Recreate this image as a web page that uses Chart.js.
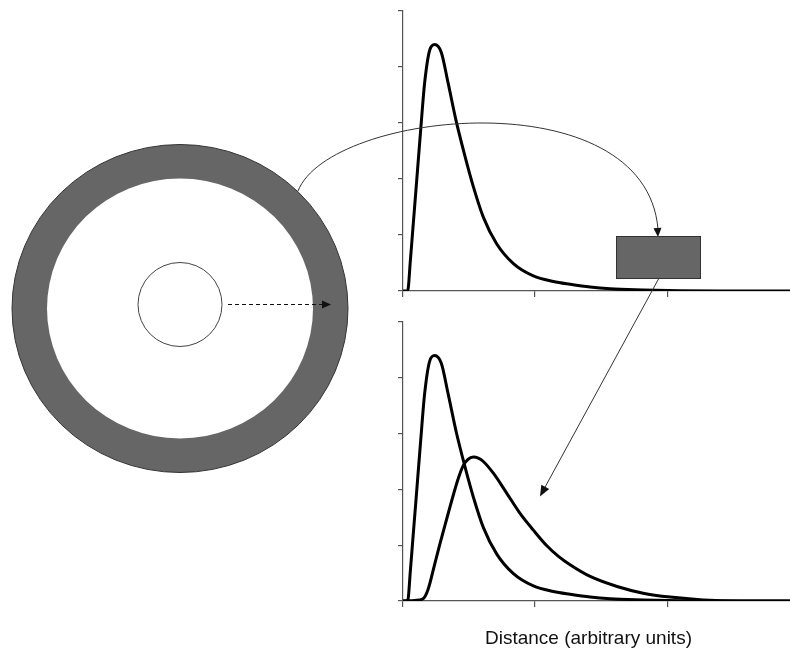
<!DOCTYPE html>
<html lang="en">
<head>
  <meta charset="UTF-8">
  <title>Distance distributions</title>
  <script src="https://cdn.jsdelivr.net/npm/chart.js"></script>
  <style>
    body {
      margin: 0;
      background: #fff;
      width: 790px;
      height: 662px;
      position: relative;
      overflow: hidden;
    }
    canvas { position: absolute; }
    #topChart { left: 380px; top: 0; }
    #bottomChart { left: 380px; top: 310px; }
    #sketch { left: 0; top: 0; pointer-events: none; }
    #xTitle {
      position: absolute;
      left: 388px;
      width: 401px;
      top: 628px;
      text-align: center;
      font: 19px/19px "Liberation Sans", Arial, sans-serif;
      color: #111;
    }
  </style>
</head>
<body>
  <canvas id="topChart" width="410" height="310"></canvas>
  <canvas id="bottomChart" width="410" height="310"></canvas>
  <canvas id="sketch" width="790" height="662"></canvas>
  <div id="xTitle">Distance (arbitrary units)</div>

  <script>
    // axes (arbitrary units); the plotted range runs off the right edge
    const xMax = 293;
    const xTickValues = [0, 100, 200];
    const yMax = 5;

    // narrow distribution (shown in both panels)
    const nearX = [0, 3.5, 5.6, 7.6, 9.8, 13.4, 16.4, 20.2, 24, 29, 34.1, 40.4, 47, 53.3, 60.8, 71, 83.6, 98.7, 113.9, 126.5, 141.7, 156.8, 181.8, 210, 240, 293];
    const nearY = [0, 0, 0.55, 1.15, 1.8, 2.88, 3.72, 4.3, 4.40, 4.26, 3.72, 3.02, 2.40, 1.86, 1.32, 0.84, 0.49, 0.27, 0.17, 0.12, 0.07, 0.04, 0.02, 0.005, 0, 0];

    // broader distribution (bottom panel only)
    const farX = [0, 9, 15.2, 18.9, 24.2, 28, 31.8, 38.1, 41.9, 45.7, 49.2, 53.3, 57, 60.8, 68.4, 78.6, 88.6, 98.7, 108.9, 117.7, 126.5, 141.7, 162.1, 181.8, 202.3, 227.3, 255, 293];
    const farY = [0, 0.01, 0.04, 0.2, 0.68, 1.03, 1.36, 1.9, 2.2, 2.43, 2.54, 2.58, 2.56, 2.50, 2.29, 1.93, 1.57, 1.27, 0.99, 0.80, 0.65, 0.44, 0.26, 0.14, 0.07, 0.02, 0, 0];

    const toPoints = (xs, ys) => xs.map((x, i) => ({ x: x, y: ys[i] }));

    const axisColor = '#555';

    function curve(points) {
      return {
        data: points,
        borderColor: '#000',
        borderWidth: 3,
        pointRadius: 0,
        fill: false,
        cubicInterpolationMode: 'monotone'
      };
    }

    function panelOptions(padTop) {
      return {
        responsive: false,
        animation: false,
        devicePixelRatio: 1,
        layout: { padding: { top: padTop, left: 0, right: 0, bottom: 0 } },
        plugins: { legend: { display: false }, tooltip: { enabled: false } },
        scales: {
          x: {
            type: 'linear',
            min: 0,
            max: xMax,
            ticks: { display: false },
            // tick marks only every 100 units, not spread evenly to the max
            afterBuildTicks: s => { s.ticks = xTickValues.map(v => ({ value: v })); },
            grid: { drawOnChartArea: false, drawTicks: true, tickLength: 6, color: axisColor, lineWidth: 1.2 },
            border: { color: axisColor, width: 1.2 },
            afterFit: s => { s.height = 19; }
          },
          y: {
            min: 0,
            max: yMax,
            ticks: { display: false, stepSize: 1 },
            grid: { drawOnChartArea: false, drawTicks: true, tickLength: 5, color: axisColor, lineWidth: 1.2 },
            border: { color: axisColor, width: 1.2 },
            afterFit: s => { s.width = 23; }
          }
        }
      };
    }

    new Chart(document.getElementById('topChart'), {
      type: 'line',
      data: { datasets: [curve(toPoints(nearX, nearY))] },
      options: panelOptions(11)
    });

    new Chart(document.getElementById('bottomChart'), {
      type: 'line',
      data: { datasets: [curve(toPoints(nearX, nearY)), curve(toPoints(farX, farY))] },
      options: panelOptions(12)
    });

    // ring sketch and connecting arrows
    const ctx = document.getElementById('sketch').getContext('2d');

    function arrowHead(fx, fy, tx, ty, len, half) {
      const dx = tx - fx, dy = ty - fy;
      const d = Math.hypot(dx, dy);
      const ux = dx / d, uy = dy / d;
      const bx = tx - ux * len, by = ty - uy * len;
      ctx.beginPath();
      ctx.moveTo(tx, ty);
      ctx.lineTo(bx - uy * half, by + ux * half);
      ctx.lineTo(bx + uy * half, by - ux * half);
      ctx.closePath();
      ctx.fill();
    }

    // outer ring
    ctx.fillStyle = '#666';
    ctx.strokeStyle = '#333';
    ctx.lineWidth = 1;
    ctx.beginPath();
    ctx.ellipse(180, 308.5, 168, 164, 0, 0, Math.PI * 2);
    ctx.fill();
    ctx.stroke();
    ctx.fillStyle = '#fff';
    ctx.beginPath();
    ctx.ellipse(180, 308.5, 133, 130, 0, 0, Math.PI * 2);
    ctx.fill();

    // inner circle
    ctx.strokeStyle = '#444';
    ctx.beginPath();
    ctx.arc(180, 304.5, 42, 0, Math.PI * 2);
    ctx.stroke();

    // dashed radius arrow
    ctx.strokeStyle = '#111';
    ctx.fillStyle = '#111';
    ctx.setLineDash([4, 3]);
    ctx.beginPath();
    ctx.moveTo(228, 304.5);
    ctx.lineTo(323, 304.5);
    ctx.stroke();
    ctx.setLineDash([]);
    arrowHead(228, 304.5, 331, 304.5, 9, 4);

    // curved arrow from ring to box
    ctx.strokeStyle = '#333';
    ctx.fillStyle = '#111';
    ctx.beginPath();
    ctx.moveTo(298, 191);
    ctx.bezierCurveTo(330, 110, 645, 78, 658, 229);
    ctx.stroke();
    arrowHead(657, 220, 658, 237, 9, 4);

    // box
    ctx.fillStyle = '#666';
    ctx.strokeStyle = '#333';
    ctx.fillRect(616.5, 236.5, 84, 42);
    ctx.strokeRect(616.5, 236.5, 84, 42);

    // straight arrow from box to bottom panel
    ctx.strokeStyle = '#333';
    ctx.fillStyle = '#111';
    ctx.beginPath();
    ctx.moveTo(658.5, 279);
    ctx.lineTo(544, 489);
    ctx.stroke();
    arrowHead(658.5, 279, 540, 496.5, 11, 4.5);
  </script>
</body>
</html>
